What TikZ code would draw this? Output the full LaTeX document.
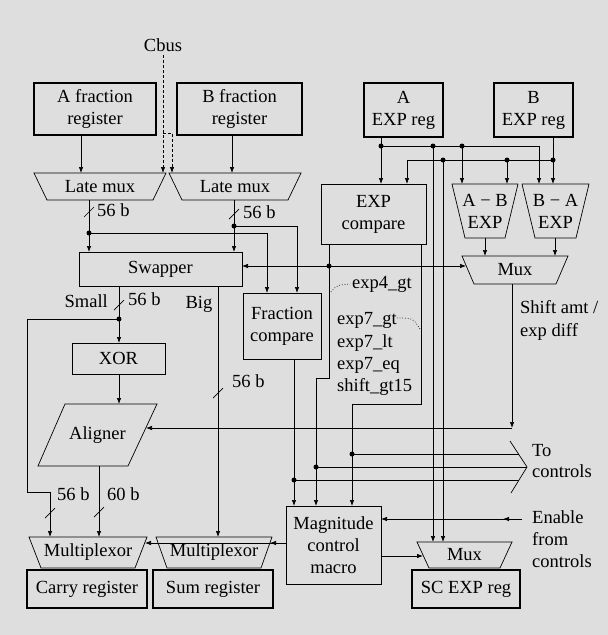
\documentclass[tikz,border=0pt]{standalone}
\usepackage{fontspec}
\setmainfont{Liberation Serif}
\usetikzlibrary{arrows.meta}
\newcommand\trapdraw[2]{\draw[ln] (#1.north west) -- (#1.north east) -- ([xshift=-#2pt]#1.south east) -- ([xshift=#2pt]#1.south west) -- cycle;}
\newcommand\busslash[2]{\draw[ln] (#1-5,#2+5) -- (#1+5,#2-5);}
\begin{document}
\begin{tikzpicture}[x=1pt,y=-1pt,
  font=\fontsize{18.5}{22}\selectfont,
  ln/.style={line width=0.7pt},
  reg/.style={draw, line width=2.2pt, inner sep=0pt, outer sep=0pt, align=center},
  blk/.style={draw, line width=0.7pt, inner sep=0pt, outer sep=0pt, align=center},
  tz/.style={inner sep=0pt, outer sep=0pt, align=center},
  arr/.style={ln, -{Latex[length=6pt,width=4.5pt]}},
  cbl/.style={arr, dash pattern=on 3pt off 2pt},
  dot/.style={circle, fill, inner sep=0pt, minimum size=5pt},
  lbl/.style={inner sep=0pt, text height=13pt, text depth=4pt, anchor=west}]
\fill[black!13] (0,0) rectangle (608,635);
\useasboundingbox (0,0) rectangle (608,635);

% ---------- registers and blocks
\node[reg, minimum width=122pt, minimum height=52pt] (afr) at (95,109) {A fraction\\register};
\node[reg, minimum width=125pt, minimum height=52pt] (bfr) at (239.5,109) {B fraction\\register};
\node[reg, minimum width=79pt, minimum height=54pt] (aexp) at (403.5,110) {A\\EXP reg};
\node[reg, minimum width=79pt, minimum height=54pt] (bexp) at (533.5,110) {B\\EXP reg};
\node (cbus) at (163,45) {Cbus};

\node[tz, minimum width=132pt, minimum height=27pt] (lma) at (100,186.5) {Late mux}; \trapdraw{lma}{13}
\node[tz, minimum width=132pt, minimum height=27pt] (lmb) at (235,186.5) {Late mux}; \trapdraw{lmb}{13}
\node[blk, minimum width=105pt, minimum height=60pt] (expc) at (373.5,214) {EXP\\compare};
\node[tz, minimum width=66pt, minimum height=54pt] (amb) at (485,211) {A − B\\EXP}; \trapdraw{amb}{13}
\node[tz, minimum width=67pt, minimum height=54pt] (bma) at (555.5,211) {B − A\\EXP}; \trapdraw{bma}{13}
\node[tz, minimum width=106pt, minimum height=28pt] (mux) at (515,270) {Mux}; \trapdraw{mux}{12}
\node[blk, minimum width=163pt, minimum height=34pt] (swp) at (160.5,269) {Swapper};
\node[blk, minimum width=78pt, minimum height=66pt] (frc) at (282,326) {Fraction\\compare};
\node[blk, minimum width=93pt, minimum height=31pt] (xor) at (118.5,358.5) {XOR};
\node[tz, minimum width=119pt, minimum height=62pt] (alg) at (97.5,435) {Aligner};
\draw[ln] ([xshift=27pt]alg.north west) -- (alg.north east) -- ([xshift=-29pt]alg.south east) -- (alg.south west) -- cycle;
\node[blk, minimum width=95pt, minimum height=78pt] (mag) at (333.5,545) {Magnitude\\control\\macro};
\node[tz, minimum width=118pt, minimum height=31pt] (cmx) at (88,552.5) {Multiplexor}; \trapdraw{cmx}{12}
\node[tz, minimum width=116pt, minimum height=31pt] (smx) at (214,552.5) {Multiplexor}; \trapdraw{smx}{11}
\node[reg, minimum width=120pt, minimum height=38pt] (car) at (87,589) {Carry register};
\node[reg, minimum width=120pt, minimum height=38pt] (sum) at (213,589) {Sum register};
\node[tz, minimum width=95pt, minimum height=26pt] (scm) at (464.5,555) {Mux}; \trapdraw{scm}{12}
\node[reg, minimum width=108pt, minimum height=38pt] (scr) at (466,589) {SC EXP reg};

% ---------- Cbus
\draw[cbl] (cbus.south) -- (cbus.south |- lma.north);
\coordinate (cbk) at (163,133);
\draw[cbl] (cbk) -- (172,133) -- (172,0 |- lmb.north);

% ---------- fraction path
\draw[arr] (afr.south -| 81,0) -- (81,0 |- lma.north);
\draw[arr] (bfr.south -| 232,0) -- (232,0 |- lmb.north);
\draw[arr] (lma.south -| 89,0) -- (89,0 |- swp.north);
\node[dot] (da) at (89,233) {};
\draw[arr] (da.center) -- (267,233) -- (267,0 |- frc.north);
\draw[arr] (lmb.south -| 234,0) -- (234,0 |- swp.north);
\node[dot] (db) at (234,226) {};
\draw[arr] (db.center) -- (297,226) -- (297,0 |- frc.north);
\busslash{89}{212} \node[lbl] (l1) at (97,212) {56 b};
\busslash{234}{214} \node[lbl] (l2) at (243,214) {56 b};

% ---------- exponent path
\draw[arr] (aexp.south -| 381,0) -- (381,0 |- expc.north);
\node[dot] (ea) at (381,146) {};
\draw[arr] (ea.center) -- (539,146) -- (539,0 |- bma.north);
\node[dot] (ea2) at (433,146) {};
\draw[arr] (ea2.center) -- (433,0 |- scm.north);
\node[dot] (ea3) at (462,146) {};
\draw[arr] (ea3.center) -- (462,0 |- amb.north);
\draw[arr] (bexp.south -| 553,0) -- (553,0 |- bma.north);
\node[dot] (eb) at (553,160) {};
\draw[arr] (eb.center) -- (407,160) -- (407,0 |- expc.north);
\node[dot] (eb2) at (443,160) {};
\draw[arr] (eb2.center) -- (443,0 |- scm.north);
\node[dot] (eb3) at (507,160) {};
\draw[arr] (eb3.center) -- (507,0 |- amb.north);
\draw[arr] (amb.south) -- (amb.south |- mux.north);
\draw[arr] (bma.south -| 555,0) -- (555,0 |- mux.north);

% ---------- compare outputs
\draw[arr] (expc.south -| 329,0) -- (329,378) -- (316,378) -- (316,0 |- mag.north);
\node[dot] (ec) at (329,266) {};
\draw[arr] (ec.center) -- (swp.east |- ec);
\coordinate (muxin) at (466,266);
\draw[arr] (ec.center) -- (muxin);
\draw[arr] (expc.south -| 421,0) -- (421,404) -- (352,404) -- (352,0 |- mag.north);
\draw[arr] (frc.south -| 294,0) -- (294,0 |- mag.north);
\node[lbl] (x4) at (352,284) {exp4\_gt};
\draw[ln, dotted] (331,292) .. controls (337,285) .. (350,284);
\node[lbl] (x7a) at (337,320) {exp7\_gt};
\node[lbl] (x7b) at (337,343) {exp7\_lt};
\node[lbl] (x7c) at (337,365) {exp7\_eq};
\node[lbl] (x15) at (337,387) {shift\_gt15};
\draw[ln, dotted] (397,318) .. controls (413,318) .. (420,329);

% ---------- to controls
\coordinate (chA) at (510,441);
\coordinate (chB) at (527,467);
\coordinate (chC) at (511,493);
\draw[ln] (chA) -- (chB) -- (chC);
\node[dot] (dm1) at (352,454) {};
\node[dot] (dm2) at (316,467) {};
\node[dot] (dm3) at (294,480) {};
\draw[ln] (dm1.center) -- (518.5,454);
\draw[ln] (dm2.center) -- (chB);
\draw[ln] (dm3.center) -- (519,480);
\node[lbl] (tc1) at (532,452) {To};
\node[lbl] (tc2) at (532,473) {controls};

% ---------- shift amount
\coordinate (sh) at (512,428);
\draw[arr] (mux.south -| 512,0) -- (sh);
\draw[arr] (sh) -- (146,428);
\node[lbl] (sa1) at (520,309) {Shift amt /};
\node[lbl] (sa2) at (520,332) {exp diff};

% ---------- small / big
\draw[arr] (swp.south -| 119,0) -- (119,0 |- xor.north);
\node[dot] (ds) at (119,319) {};
\draw[arr] (ds.center) -- (27,319) -- (27,492) -- (50,492) -- (50,0 |- cmx.north);
\draw[arr] (xor.south -| 119,0) -- (119,0 |- alg.north);
\draw[arr] (alg.south -| 99,0) -- (99,0 |- cmx.north);
\draw[arr] (swp.south -| 218,0) -- (218,0 |- smx.north);
\node[lbl, anchor=east] (sm) at (108,303) {Small};
\busslash{119}{305} \node[lbl] (l3) at (128,301) {56 b};
\node[lbl, anchor=center] (bg) at (199,304) {Big};
\busslash{218}{393} \node[lbl] (l4) at (232,383) {56 b};
\busslash{50}{513} \node[lbl] (l5) at (57,496) {56 b};
\busslash{99}{512} \node[lbl] (l6) at (107,496) {60 b};

% ---------- magnitude control
\draw[arr] (mag.west |- 0,543) -- (270,543);
\draw[arr] (mag.west |- 0,543) -- (145,543);
\draw[arr] (mag.east |- 0,556) -- (423,556);
\coordinate (en) at (522,519);
\draw[arr] (en) -- (503,519);
\draw[arr] (en) -- (mag.east |- en);
\node[lbl] (e1) at (532,519) {Enable};
\node[lbl] (e2) at (532,541) {from};
\node[lbl] (e3) at (532,563) {controls};
\end{tikzpicture}
\end{document}
